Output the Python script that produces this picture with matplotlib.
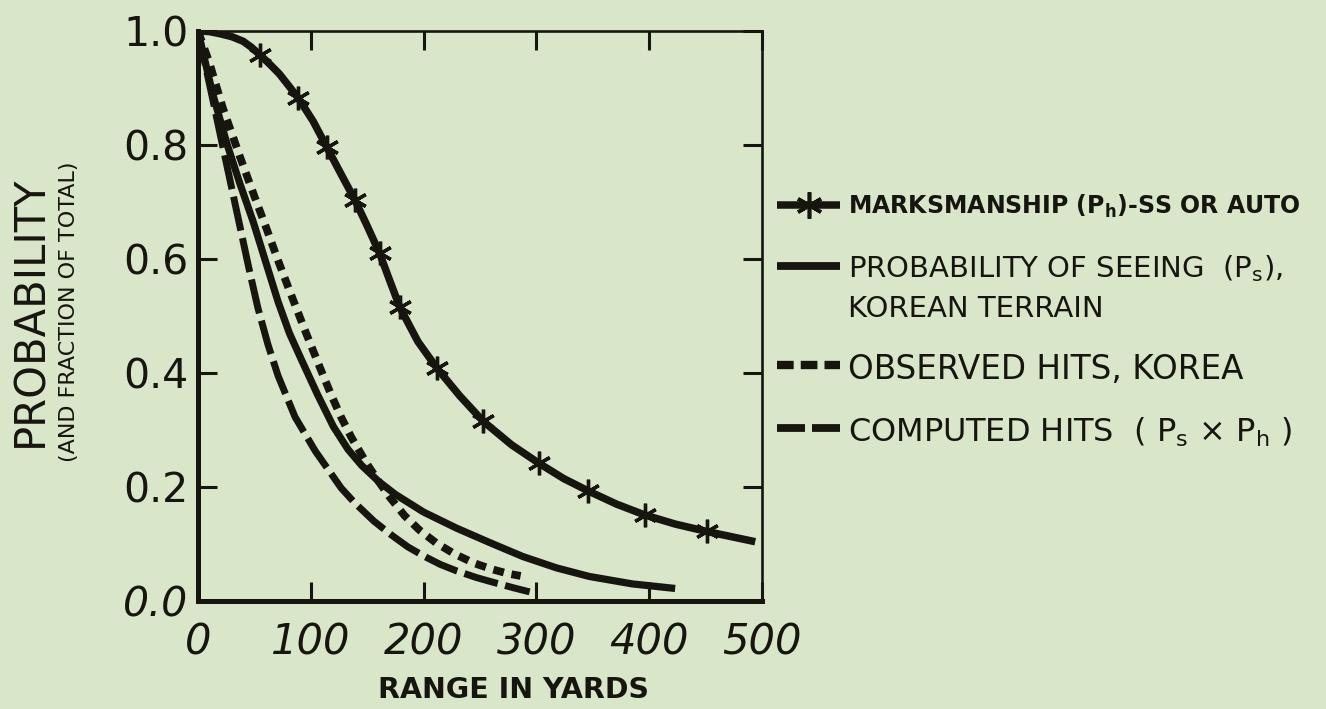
import matplotlib
matplotlib.use('Agg')
import matplotlib.pyplot as plt
from matplotlib.lines import Line2D

# ---------------- data ----------------
marks_x = [0, 10, 20, 30, 40, 47, 55, 63, 72, 80, 89, 102, 114, 126, 139, 150,
           161, 170, 179, 195, 212, 232, 253, 278, 302, 324, 346, 371, 396, 423,
           451, 494]
marks_y = [1.0, 0.999, 0.995, 0.99, 0.982, 0.972, 0.958, 0.943, 0.925, 0.905,
           0.882, 0.842, 0.797, 0.752, 0.704, 0.658, 0.610, 0.562, 0.515, 0.455,
           0.408, 0.360, 0.315, 0.274, 0.242, 0.215, 0.193, 0.170, 0.151, 0.135,
           0.122, 0.104]
star_x = [55, 89, 114, 139, 161, 179, 212, 253, 302, 346, 396, 451]
star_y = [0.958, 0.882, 0.797, 0.704, 0.610, 0.515, 0.408, 0.315, 0.242, 0.193,
          0.151, 0.122]

seeing_x = [0, 13, 26, 37, 49, 60, 71, 81, 92, 106, 120, 133, 145, 160, 175,
            200, 229, 258, 288, 318, 347, 385, 423]
seeing_y = [1.0, 0.89, 0.80, 0.733, 0.665, 0.595, 0.525, 0.47, 0.422, 0.362,
            0.306, 0.266, 0.238, 0.210, 0.187, 0.156, 0.128, 0.103, 0.078, 0.058,
            0.043, 0.030, 0.022]

observed_x = [0, 10, 22, 38, 50, 61, 72, 83, 95, 108, 118, 127, 136, 150, 160,
              170, 183, 196, 211, 227, 244, 260, 275, 286]
observed_y = [1.0, 0.945, 0.865, 0.775, 0.71, 0.652, 0.592, 0.535, 0.474, 0.41,
              0.362, 0.322, 0.287, 0.24, 0.210, 0.182, 0.150, 0.125, 0.102, 0.083,
              0.067, 0.056, 0.048, 0.044]

computed_x = [0, 12, 22, 36, 45, 53, 62, 71, 86, 104, 127, 139, 156, 172, 186,
              200, 215, 229, 247, 265, 280, 294]
computed_y = [1.0, 0.89, 0.797, 0.668, 0.585, 0.515, 0.45, 0.395, 0.323, 0.263,
              0.198, 0.172, 0.140, 0.115, 0.095, 0.079, 0.064, 0.053, 0.041, 0.031,
              0.023, 0.016]

xticks = [0, 100, 200, 300, 400, 500]
xtick_labels = ['0', '100', '200', '300', '400', '500']
yticks = [0.0, 0.2, 0.4, 0.6, 0.8, 1.0]
ytick_labels = ['0.0', '0.2', '0.4', '0.6', '0.8', '1.0']

legend_labels = [
    'MARKSMANSHIP (P$_\\mathregular{h}$)-SS OR AUTO',
    'PROBABILITY OF SEEING  (P$_\\mathregular{s}$),',
    'OBSERVED HITS, KOREA',
    'COMPUTED HITS  ( P$_\\mathregular{s}$ $\\times$ P$_\\mathregular{h}$ )',
]
legend_label2 = 'KOREAN TERRAIN'
xlabel = 'RANGE IN YARDS'
ylabel = 'PROBABILITY'
ylabel2 = '(AND FRACTION OF TOTAL)'

# ---------------- style ----------------
BG = '#d9e6c9'
INK = '#16160f'
W, H = 1326, 709
plt.rcParams['font.family'] = ['DejaVu Sans']
plt.rcParams['mathtext.fontset'] = 'dejavusans'

fig = plt.figure(figsize=(W / 100, H / 100), dpi=100, facecolor=BG)
ax = fig.add_axes([198 / W, 1 - 601 / H, (762 - 198) / W, (601 - 31) / H])
ax.set_facecolor(BG)

ax.plot(marks_x, marks_y, color=INK, lw=5.4, solid_capstyle='butt',
        solid_joinstyle='round')
ax.plot(star_x, star_y, ls='none', marker=(6, 2, 0), ms=17, mew=2.4,
        mec=INK, color=INK)
ax.plot(seeing_x, seeing_y, color=INK, lw=5.2, solid_capstyle='butt',
        solid_joinstyle='round')
ax.plot(observed_x, observed_y, color=INK, lw=5.6, dash_capstyle='butt',
        dashes=(1.4, 1.0))
ax.plot(computed_x, computed_y, color=INK, lw=5.0, dash_capstyle='butt',
        dashes=(5.0, 1.1))

ax.set_xlim(0, 500)
ax.set_ylim(0, 1)
ax.set_xticks(xticks)
ax.set_xticklabels(xtick_labels, fontsize=30, style='italic', color=INK)
ax.set_yticks(yticks)
ax.set_yticklabels(ytick_labels, fontsize=29.5, color=INK)
ax.get_yticklabels()[0].set_style('italic')
ax.tick_params(axis='x', direction='in', length=14, width=2.2, top=True,
               color=INK, pad=15)
ax.tick_params(axis='y', direction='in', length=14, width=2.2, right=True,
               color=INK, pad=7)
for s in ['left', 'bottom']:
    ax.spines[s].set_linewidth(3.6)
for s in ['top', 'right']:
    ax.spines[s].set_linewidth(1.9)
for s in ax.spines.values():
    s.set_color(INK)

# axis titles
fig.text(30 / W, 1 - 311 / H, ylabel, rotation=90, ha='center', va='center',
         fontsize=30, color=INK)
fig.text(69 / W, 1 - 312 / H, ylabel2, rotation=90, ha='center', va='center',
         fontsize=16, color=INK)
fig.text(513 / W, 1 - 690 / H, xlabel, ha='center', va='center',
         fontsize=20.5, fontweight='bold', color=INK)

# ---------------- legend (drawn by hand to follow the original layout) ----------------
hx0, hx1 = 777 / W, 840 / W
rows = [205, 266, 365, 428]


def fy(p):
    return 1 - p / H


fig.add_artist(Line2D([hx0, hx1], [fy(rows[0])] * 2, color=INK, lw=5.4,
                      solid_capstyle='butt'))
fig.add_artist(Line2D([(hx0 + hx1) / 2], [fy(rows[0])], color=INK,
                      marker=(6, 2, 0), ms=19, mew=2.6, ls='none'))
fig.add_artist(Line2D([hx0, hx1], [fy(rows[1])] * 2, color=INK, lw=5.6,
                      solid_capstyle='butt'))
fig.add_artist(Line2D([hx0, hx1], [fy(rows[2])] * 2, color=INK, lw=6.0,
                      dash_capstyle='butt', dashes=(2.0, 0.85)))
fig.add_artist(Line2D([hx0, hx1], [fy(rows[3])] * 2, color=INK, lw=5.6,
                      dash_capstyle='butt', dashes=(3.6, 0.9)))

tx = 848 / W
fig.text(tx, fy(214), legend_labels[0], fontsize=17, fontweight='bold',
         va='baseline', color=INK)
fig.text(tx, fy(277), legend_labels[1], fontsize=21, va='baseline', color=INK)
fig.text(tx, fy(317), legend_label2, fontsize=21, va='baseline', color=INK)
fig.text(tx, fy(379), legend_labels[2], fontsize=23.5, va='baseline', color=INK)
fig.text(tx, fy(442), legend_labels[3], fontsize=23, va='baseline', color=INK)

fig.savefig('out.png', dpi=100, facecolor=BG)
